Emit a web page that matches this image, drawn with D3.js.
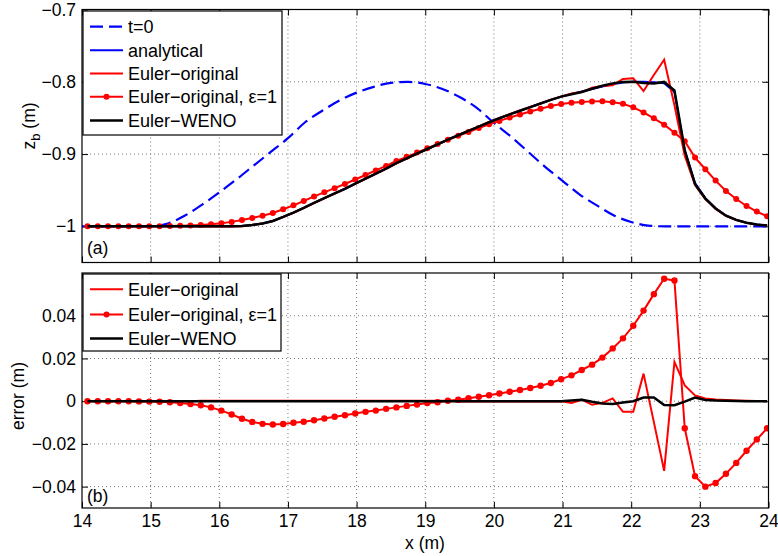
<!DOCTYPE html>
<html>
<head>
<meta charset="utf-8">
<script src="https://cdn.jsdelivr.net/npm/d3@7"></script>
<style>
html,body{margin:0;padding:0;background:#fff;}
svg{display:block;}
text{font-family:"Liberation Sans",Arial,Helvetica,sans-serif;}
</style>
</head>
<body>
<svg id="chart" width="778" height="556"></svg>
<script>
// ---------------- data ----------------
const xGrid = [14.08,14.23,14.38,14.53,14.68,14.83,14.98,15.13,15.28,15.43,15.58,15.73,15.88,16.03,16.18,16.33,16.48,16.63,16.78,16.93,17.08,17.23,17.38,17.53,17.68,17.83,17.98,18.13,18.28,18.43,18.58,18.73,18.88,19.03,19.18,19.33,19.48,19.63,19.78,19.93,20.08,20.23,20.38,20.53,20.68,20.83,20.98,21.13,21.28,21.43,21.58,21.73,21.88,22.03,22.18,22.33,22.48,22.63,22.78,22.93,23.08,23.23,23.38,23.53,23.68,23.83,23.98];

const t0X = [14,15,15.25,15.5,15.75,16,16.25,16.5,16.75,17,17.25,17.5,17.75,18,18.25,18.5,18.75,19,19.25,19.5,19.75,20,20.25,20.5,20.75,21,21.25,21.5,21.75,22,22.25,22.5,24];
const t0Z = [-1,-1,-0.996,-0.985,-0.97,-0.953,-0.935,-0.916,-0.897,-0.878,-0.856,-0.84,-0.826,-0.815,-0.807,-0.8014,-0.8002,-0.803,-0.81,-0.821,-0.836,-0.857,-0.876,-0.897,-0.918,-0.937,-0.956,-0.971,-0.985,-0.994,-0.999,-1,-1];

const analytical = [-1,-1,-1,-1,-1,-1,-1,-1,-1,-1,-1,-1,-1,-1,-1,-0.9995,-0.998,-0.996,-0.9925,-0.987,-0.981,-0.9745,-0.9675,-0.961,-0.9545,-0.948,-0.941,-0.934,-0.927,-0.920,-0.9125,-0.906,-0.8995,-0.893,-0.8865,-0.880,-0.874,-0.868,-0.862,-0.856,-0.8505,-0.845,-0.840,-0.835,-0.830,-0.825,-0.8205,-0.817,-0.8135,-0.810,-0.8065,-0.8035,-0.801,-0.800,-0.800,-0.8005,-0.802,-0.814,-0.895,-0.940,-0.961,-0.975,-0.985,-0.991,-0.995,-0.9975,-0.9988];

const eulerOrig = [-1,-1,-1,-1,-1,-1,-1,-1,-1,-1,-1,-1.0002,-1.0002,-1.0002,-1.0002,-0.9997,-0.9982,-0.9962,-0.9927,-0.9872,-0.9812,-0.9747,-0.9677,-0.9612,-0.9547,-0.9482,-0.9412,-0.9342,-0.9272,-0.9202,-0.9127,-0.9062,-0.8997,-0.8932,-0.8867,-0.8802,-0.8738,-0.8678,-0.8618,-0.8558,-0.8503,-0.8448,-0.8398,-0.8348,-0.8298,-0.8247,-0.8205,-0.8162,-0.8142,-0.8083,-0.8057,-0.8048,-0.796,-0.795,-0.8129,-0.7907,-0.7694,-0.8324,-0.9024,-0.9427,-0.9623,-0.9758,-0.9855,-0.9913,-0.9952,-0.9976,-0.9988];

const eulerEps1 = [-1,-1,-1,-1,-1,-0.9999,-0.9998,-0.9997,-0.9995,-0.9991,-0.9987,-0.9981,-0.9971,-0.9956,-0.9938,-0.9913,-0.9883,-0.9854,-0.9816,-0.9763,-0.9709,-0.9649,-0.9586,-0.9529,-0.9472,-0.9414,-0.9352,-0.929,-0.9226,-0.9164,-0.9096,-0.9038,-0.8979,-0.8921,-0.886,-0.8802,-0.8747,-0.8694,-0.8641,-0.8588,-0.8541,-0.8494,-0.8452,-0.8412,-0.8372,-0.8335,-0.8308,-0.8291,-0.8281,-0.8271,-0.8269,-0.8282,-0.8304,-0.8353,-0.8424,-0.8506,-0.8593,-0.8705,-0.8823,-0.9049,-0.921,-0.9367,-0.951,-0.9621,-0.9718,-0.9796,-0.9861];

const eulerWENO = [-1,-1,-1,-1,-1,-1,-1,-1,-1,-1,-1,-1,-1,-1,-1,-0.9995,-0.998,-0.996,-0.9925,-0.987,-0.981,-0.9745,-0.9675,-0.961,-0.9545,-0.948,-0.941,-0.934,-0.927,-0.920,-0.9125,-0.906,-0.8995,-0.893,-0.8865,-0.880,-0.874,-0.868,-0.862,-0.856,-0.8505,-0.845,-0.840,-0.835,-0.830,-0.825,-0.8205,-0.8173,-0.8142,-0.8097,-0.8054,-0.8022,-0.8004,-0.800,-0.8017,-0.8022,-0.8002,-0.8121,-0.8948,-0.9417,-0.9616,-0.9753,-0.9852,-0.9911,-0.995,-0.9975,-0.9988];

const errOrig = [0,0,0,0,0,0,0,0,0,0,0,0.0002,0.0002,0.0002,0.0002,0.0002,0.0002,0.0002,0.0002,0.0002,0.0002,0.0002,0.0002,0.0002,0.0002,0.0002,0.0002,0.0002,0.0002,0.0002,0.0002,0.0002,0.0002,0.0002,0.0002,0.0002,-0.0002,-0.0002,-0.0002,-0.0002,-0.0002,-0.0002,-0.0002,-0.0002,-0.0002,-0.0002,0,-0.0008,0.0007,-0.0017,-0.0008,0.0013,-0.005,-0.005,0.0129,-0.0098,-0.0326,0.0184,0.0074,0.0027,0.0013,0.0008,0.0005,0.0003,0.0002,0.0001,0];

const errEps1 = [0,0,0,0,0,-0.0001,-0.0002,-0.0003,-0.0005,-0.0009,-0.0013,-0.0019,-0.0029,-0.0044,-0.0062,-0.0082,-0.0097,-0.0106,-0.0109,-0.0107,-0.0101,-0.0096,-0.0089,-0.0081,-0.0073,-0.0066,-0.0058,-0.0050,-0.0044,-0.0036,-0.0029,-0.0022,-0.0016,-0.0009,-0.0005,0.0002,0.0007,0.0014,0.0021,0.0028,0.0036,0.0044,0.0052,0.0062,0.0072,0.0085,0.0103,0.0121,0.0146,0.0171,0.0204,0.0247,0.0294,0.0353,0.0424,0.0501,0.0573,0.0565,-0.0127,-0.0351,-0.0400,-0.0383,-0.0340,-0.0289,-0.0232,-0.0179,-0.0127];

const errWENO = [0,0,0,0,0,0,0,0,0,0,0,0,0,0,0,0,0,0,0,0,0,0,0,0,0,0,0,0,0,0,0,0,0,0,0,0,0,0,0,0,0,0,0,0,0,0,0,0.0003,0.0007,-0.0003,-0.0011,-0.0013,-0.0006,0,0.0017,0.0017,-0.0018,-0.0019,-0.0002,0.0017,0.0006,0.0003,0.0002,0.0001,0,0,0];

const xTicks = [14,15,16,17,18,19,20,21,22,23,24];
const xTickLabels = ["14","15","16","17","18","19","20","21","22","23","24"];
const yTopTicks = [-0.7,-0.8,-0.9,-1];
const yTopTickLabels = ["\u22120.7","\u22120.8","\u22120.9","\u22121"];
const yBotTicks = [0.04,0.02,0,-0.02,-0.04];
const yBotTickLabels = ["0.04","0.02","0","\u22120.02","\u22120.04"];

const topLegend = ["t=0","analytical","Euler\u2212original","Euler\u2212original, \u03b5=1","Euler\u2212WENO"];
const botLegend = ["Euler\u2212original","Euler\u2212original, \u03b5=1","Euler\u2212WENO"];

// ---------------- layout ----------------
const svg = d3.select("#chart");
const L = 82, R = 768.5;
const topP = {y0: 9.5, y1: 262.5};
const botP = {y0: 273, y1: 508};
const FS = 17.5, LFS = 18;
const DASH = "13,6";

const x = d3.scaleLinear().domain([14,24]).range([L,R]);
const yTop = d3.scaleLinear().domain([-1.05,-0.7]).range([topP.y1, topP.y0]);
const yBot = d3.scaleLinear().domain([-0.05,0.06]).range([botP.y1, botP.y0]);

const BLUE = "#0000ff", RED = "#ff0000", BLACK = "#000000";

function panel(y, P, yTicks, yLabels, showX) {
  const g = svg.append("g");
  const grid = g.append("g").attr("stroke","#666").attr("stroke-width",0.9).attr("stroke-dasharray","1,3");
  xTicks.filter(v => v > 14 && v < 24).forEach(v => {
    grid.append("line").attr("x1",x(v)).attr("x2",x(v)).attr("y1",P.y0).attr("y2",P.y1);
  });
  yTicks.forEach(v => {
    const yy = y(v);
    if (yy > P.y0 + 1 && yy < P.y1 - 1)
      grid.append("line").attr("x1",L).attr("x2",R).attr("y1",yy).attr("y2",yy);
  });
  const tk = 6;
  g.append("g").attr("transform",`translate(0,${P.y1})`)
    .call(d3.axisBottom(x).tickValues(xTicks).tickSizeInner(-tk).tickSizeOuter(0).tickFormat(""))
    .call(s => s.select(".domain").remove());
  g.append("g").attr("transform",`translate(0,${P.y0})`)
    .call(d3.axisTop(x).tickValues(xTicks).tickSizeInner(-tk).tickSizeOuter(0).tickFormat(""))
    .call(s => s.select(".domain").remove());
  g.append("g").attr("transform",`translate(${L},0)`)
    .call(d3.axisLeft(y).tickValues(yTicks).tickSizeInner(-tk).tickSizeOuter(0).tickFormat(""))
    .call(s => s.select(".domain").remove());
  g.append("g").attr("transform",`translate(${R},0)`)
    .call(d3.axisRight(y).tickValues(yTicks).tickSizeInner(-tk).tickSizeOuter(0).tickFormat(""))
    .call(s => s.select(".domain").remove());
  const yl = g.append("g").attr("transform",`translate(${L},0)`)
    .call(d3.axisLeft(y).tickValues(yTicks).tickSize(0).tickPadding(6).tickFormat((d,i) => yLabels[i]));
  yl.select(".domain").remove();
  yl.selectAll("text").attr("font-size",FS).attr("font-family","'Liberation Sans',Arial,sans-serif").attr("fill","#000");
  if (showX) {
    const xl = g.append("g").attr("transform",`translate(0,${P.y1})`)
      .call(d3.axisBottom(x).tickValues(xTicks).tickSize(0).tickPadding(7).tickFormat((d,i) => xTickLabels[i]));
    xl.select(".domain").remove();
    xl.selectAll("text").attr("font-size",FS).attr("font-family","'Liberation Sans',Arial,sans-serif").attr("fill","#000");
  }
  g.selectAll(".tick line").attr("stroke","#000").attr("stroke-width",1);
  return g;
}

function clipFor(id, P) {
  svg.append("clipPath").attr("id",id).append("rect")
    .attr("x",L).attr("y",P.y0).attr("width",R-L).attr("height",P.y1-P.y0);
}

panel(yTop, topP, yTopTicks, yTopTickLabels, false);
panel(yBot, botP, yBotTicks, yBotTickLabels, true);
clipFor("clipTop", topP);
clipFor("clipBot", botP);

// ---------------- top curves ----------------
const gt = svg.append("g").attr("clip-path","url(#clipTop)");
const lineTop = d3.line().x(d => x(d[0])).y(d => yTop(d[1]));
const zip = (xs, ys) => xs.map((v,i) => [v, ys[i]]);

gt.append("path").datum(zip(t0X,t0Z)).attr("d", lineTop.curve(d3.curveMonotoneX))
  .attr("fill","none").attr("stroke",BLUE).attr("stroke-width",2.2).attr("stroke-dasharray",DASH);
lineTop.curve(d3.curveLinear);
gt.append("path").datum(zip(xGrid,analytical)).attr("d", lineTop)
  .attr("fill","none").attr("stroke",BLUE).attr("stroke-width",2);
gt.append("path").datum(zip(xGrid,eulerOrig)).attr("d", lineTop)
  .attr("fill","none").attr("stroke",RED).attr("stroke-width",2);
gt.append("path").datum(zip(xGrid,eulerEps1)).attr("d", lineTop)
  .attr("fill","none").attr("stroke",RED).attr("stroke-width",2);
gt.append("g").selectAll("circle").data(zip(xGrid,eulerEps1)).join("circle")
  .attr("cx", d => x(d[0])).attr("cy", d => yTop(d[1])).attr("r",3).attr("fill",RED);
gt.append("path").datum(zip(xGrid,eulerWENO)).attr("d", lineTop)
  .attr("fill","none").attr("stroke",BLACK).attr("stroke-width",2.5);

// ---------------- bottom curves ----------------
const gb = svg.append("g").attr("clip-path","url(#clipBot)");
const lineBot = d3.line().x(d => x(d[0])).y(d => yBot(d[1]));
gb.append("path").datum(zip(xGrid,errOrig)).attr("d", lineBot)
  .attr("fill","none").attr("stroke",RED).attr("stroke-width",2);
gb.append("path").datum(zip(xGrid,errEps1)).attr("d", lineBot)
  .attr("fill","none").attr("stroke",RED).attr("stroke-width",2);
gb.append("g").selectAll("circle").data(zip(xGrid,errEps1)).join("circle")
  .attr("cx", d => x(d[0])).attr("cy", d => yBot(d[1])).attr("r",3.2).attr("fill",RED);
gb.append("path").datum(zip(xGrid,errWENO)).attr("d", lineBot)
  .attr("fill","none").attr("stroke",BLACK).attr("stroke-width",2.5);

// ---------------- frames ----------------
[topP, botP].forEach(P => {
  svg.append("rect").attr("x",L).attr("y",P.y0).attr("width",R-L).attr("height",P.y1-P.y0)
    .attr("fill","none").attr("stroke","#000").attr("stroke-width",1.2);
});

// ---------------- legends ----------------
function legend(entries, styles, bx, by, bw, bh, rowY) {
  const g = svg.append("g");
  g.append("rect").attr("x",bx).attr("y",by).attr("width",bw).attr("height",bh)
    .attr("fill","#fff").attr("stroke","#000").attr("stroke-width",1.2);
  entries.forEach((t,i) => {
    const yy = rowY[i];
    const s = styles[i];
    g.append("line").attr("x1",90).attr("x2",123).attr("y1",yy).attr("y2",yy)
      .attr("stroke",s.c).attr("stroke-width",s.w).attr("stroke-dasharray",s.dash || null);
    if (s.m) g.append("circle").attr("cx",106.5).attr("cy",yy).attr("r",3).attr("fill",s.c);
    g.append("text").attr("x",128).attr("y",yy).attr("dy","0.35em")
      .attr("font-size",LFS).attr("fill","#000").text(t);
  });
}
legend(topLegend,
  [{c:BLUE,w:2.2,dash:DASH},{c:BLUE,w:2},{c:RED,w:2},{c:RED,w:2,m:true},{c:BLACK,w:2.5}],
  83, 11, 199, 124, [26.7,50.2,73.4,96.8,120.4]);
legend(botLegend,
  [{c:RED,w:2},{c:RED,w:2,m:true},{c:BLACK,w:2.5}],
  83, 274, 198, 77, [289.3,314.5,338.5]);

// ---------------- texts ----------------
svg.append("text").attr("x",87).attr("y",254).attr("font-size",FS).text("(a)");
svg.append("text").attr("x",87).attr("y",502).attr("font-size",FS).text("(b)");
svg.append("text").attr("x",425).attr("y",549).attr("text-anchor","middle").attr("font-size",FS).text("x (m)");
const zl = svg.append("text").attr("transform","translate(35,126) rotate(-90)")
  .attr("text-anchor","middle").attr("font-size",FS);
zl.append("tspan").text("z");
zl.append("tspan").attr("dy",5).attr("font-size",13).text("b");
zl.append("tspan").attr("dy",-5).text(" (m)");
svg.append("text").attr("transform","translate(24,396) rotate(-90)")
  .attr("text-anchor","middle").attr("font-size",FS).text("error (m)");
</script>
</body>
</html>
